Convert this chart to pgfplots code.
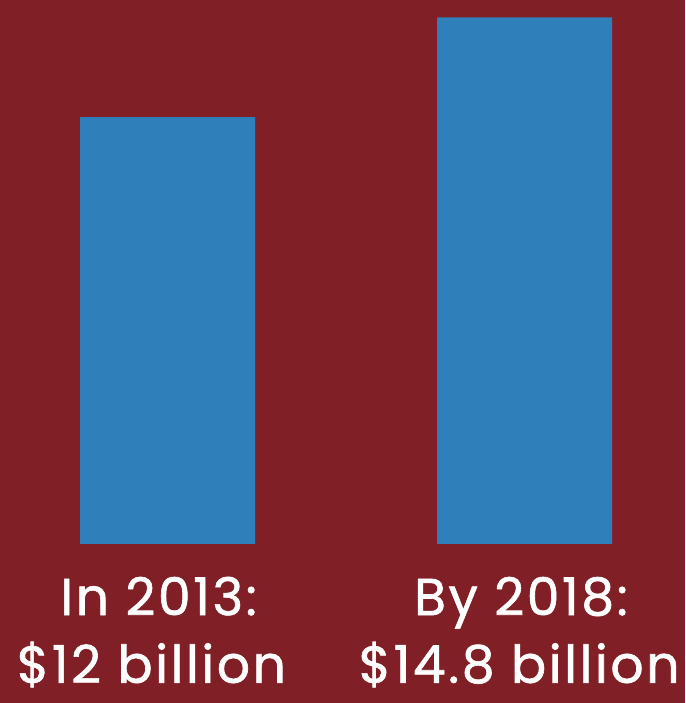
\documentclass[border=0pt]{standalone}
\usepackage{pgfplots}
\pgfplotsset{compat=1.18}
\usepackage{fontspec}
\setmainfont{Poppins}[LetterSpace=5,FakeBold=1.2]
\definecolor{bgred}{HTML}{811F27}
\definecolor{barblue}{HTML}{2E7FBA}
\begin{document}
\begin{tikzpicture}[lbl/.style={anchor=base, text=white, inner sep=0pt, font=\fontsize{52}{52}\selectfont}]
\begin{axis}[
    scale only axis,
    width=685pt, height=703pt,
    xmin=-0.4692, xmax=1.4496,
    ymin=-4.469, ymax=15.289,
    hide axis,
    axis background/.style={fill=bgred},
    ybar, bar width=175pt, bar shift=0pt,
    clip=false,
]
\addplot[fill=barblue, draw=none] coordinates {(0,12) (1,14.8)};
\node[lbl] at (axis cs:-0.025,-2.0) {In 2013:};
\node[lbl] at (axis cs:-0.045,-3.9) {\$12 billion};
\node[lbl] at (axis cs:0.99,-2.0) {By 2018:};
\node[lbl] at (axis cs:0.985,-3.9) {\$14.8 billion};
\end{axis}
\end{tikzpicture}
\end{document}
